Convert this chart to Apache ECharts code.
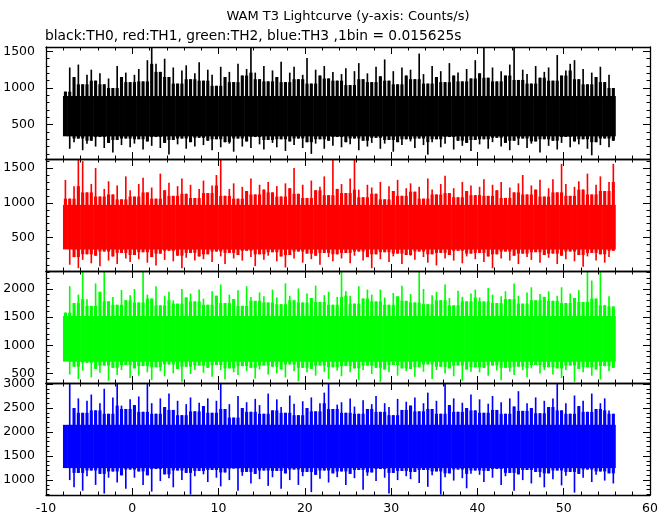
<!DOCTYPE html>
<html><head><meta charset="utf-8">
<script src="https://cdn.jsdelivr.net/npm/echarts@6/dist/echarts.min.js"></script>
<style>html,body{margin:0;padding:0;background:#fff}#c{width:672px;height:515px}</style>
</head><body><div id="c"></div>
<script>
const TITLE = 'WAM T3 Lightcurve (y-axis: Counts/s)';
const SUBTITLE = 'black:TH0, red:TH1, green:TH2, blue:TH3 ,1bin = 0.015625s';
const X_MIN = -10, X_MAX = 60, X_INTERVAL = 10;
const T_START = -8, T_BIN = 0.5;   // start time of first reading, width of each reading interval (s)

// Per-panel envelope readings per 0.5 s interval: hi = spike tops, lo = spike bottoms (Counts/s)
const th0Hi = [950,1280,1150,1320,1050,1180,1250,1100,1200,1050,1130,1000,1300,1150,1210,1080,
 1180,1260,1090,1380,1560,1330,1220,1400,1150,1280,1060,1240,1310,1120,1200,1350,
 1100,1250,1180,1030,1290,1150,1220,1080,1330,1170,1260,1560,1210,1120,1300,1090,
 1240,1150,1360,1080,1210,1290,1120,1180,1410,1060,1250,1170,1300,1130,1220,1100,
 1190,1270,1040,1230,1340,1120,1200,1080,1290,1160,1390,1100,1230,1050,1280,1170,
 1250,1120,1470,1190,1060,1300,1150,1230,1080,1340,1170,1210,1090,1260,1130,1380,
 1200,1560,1140,1280,1090,1230,1170,1320,1560,1110,1250,1190,1060,1300,1140,1220,
 1280,1100,1450,1170,1240,1330,1380,1120,1260,1050,1210,1150,1290,1080,1180,1000];
const th0Lo = [420,170,260,310,150,240,280,200,330,180,250,120,290,220,310,190,
 240,300,160,270,210,330,180,250,90,290,230,310,170,260,200,320,
 220,280,150,300,190,260,240,130,310,200,270,180,330,230,160,290,
 250,190,300,140,270,220,310,180,260,100,240,300,170,280,210,330,
 190,260,230,310,150,280,200,250,320,170,240,290,130,260,220,300,
 270,180,310,220,90,260,300,190,240,330,160,280,210,250,140,290,
 230,300,170,260,320,200,250,150,280,220,310,180,240,270,120,300,
 210,280,160,250,330,190,270,230,300,170,80,260,220,310,190,280];
const th1Hi = [1330,1060,1240,1630,1600,1150,1270,1500,1090,1200,1310,1120,1250,1050,1380,1180,
 1090,1270,1360,1150,1220,1060,1420,1180,1290,1100,1240,1350,1130,1260,1070,1200,
 1320,1140,1250,1400,1630,1100,1200,1280,1060,1230,1170,1350,1120,1260,1190,1300,
 1150,1240,1090,1280,1210,1500,1130,1260,1070,1320,1180,1230,1380,1110,1630,1200,
 1270,1140,1350,1630,1190,1080,1260,1220,1130,1300,1050,1240,1170,1330,1100,1210,
 1280,1160,1230,1060,1350,1190,1120,1270,1390,1140,1210,1080,1300,1170,1250,1110,
 1230,1340,1100,1260,1180,1300,1070,1220,1150,1280,1400,1120,1250,1190,1330,1090,
 1210,1340,1150,1560,1270,1100,1230,1310,1190,1420,1120,1260,1380,1170,1300,1560];
const th1Lo = [480,110,220,60,180,260,130,240,90,300,170,230,120,280,200,150,
 250,190,290,140,220,100,270,180,310,160,240,60,210,280,170,230,
 190,260,150,300,230,120,280,200,250,170,310,220,90,260,180,240,
 290,160,230,70,250,200,300,140,270,190,240,110,280,220,160,260,
 200,280,130,240,300,170,220,60,260,190,290,150,230,270,120,250,
 240,180,300,220,140,260,100,280,200,250,170,310,130,230,270,190,
 280,150,230,60,260,200,300,170,240,120,270,220,180,290,140,250,
 210,270,120,240,190,300,160,250,80,230,280,170,260,140,220,310];
const th2Hi = [1580,2050,1750,1900,2320,1820,1700,2100,1950,2320,1780,1860,1720,1980,1800,1890,
 2000,1760,2320,1900,1830,2050,1710,1880,1950,1800,1740,2000,1850,1920,1780,1990,
 1830,1720,1960,1880,2080,1750,1900,1820,1980,1700,2050,1860,1790,1940,1870,1760,
 1990,1850,1730,2100,1880,1800,2010,1760,1920,1840,2060,1770,1890,1950,1720,1860,
 2320,1960,1880,1740,2050,1830,1990,1900,1780,1990,1850,1720,1930,1870,2060,1790,
 1910,1760,2320,2000,1730,1890,1950,1800,2080,1840,1710,1970,1860,1780,1920,1990,
 1850,1780,2020,1900,1750,1870,1960,1820,2100,1880,1740,1940,2030,1800,1910,1860,
 1960,1790,1880,2030,1750,1920,1840,1980,1770,2320,2150,1830,2320,1710,1870,1690];
const th2Lo = [950,480,620,400,550,690,430,580,510,640,370,600,470,560,650,420,
 590,460,630,520,380,610,540,450,660,500,580,350,620,490,560,640,
 510,600,440,650,560,390,590,520,470,630,540,600,410,570,640,480,
 620,500,570,430,660,540,360,600,520,580,460,640,530,400,610,550,
 450,630,520,590,380,560,640,490,600,350,570,520,650,460,590,540,
 580,440,610,530,660,400,560,620,500,590,450,640,370,570,530,610,
 520,600,460,640,550,380,600,530,470,620,560,430,590,650,500,560,
 610,480,590,420,560,640,350,580,520,610,460,570,390,630,540,600];
const th3Hi = [2100,3020,2500,2700,2400,2650,2780,2450,2600,2900,2380,2720,3020,2550,2480,2680,
 2560,2740,2420,3020,2600,2380,2700,2520,2800,2460,2650,2350,2580,2720,2430,2610,
 2540,2700,2400,2650,3020,2480,2580,2300,2750,2500,2620,2420,2690,2560,2380,2800,
 2450,2680,2520,2400,2760,2590,2350,2640,2500,2720,2430,2600,2820,3020,2480,2570,
 2620,2400,2700,2530,2380,2660,2480,2580,2750,2420,2600,2520,2350,2690,2460,2630,
 2550,2720,2430,2600,2820,2480,2650,2380,3020,2560,2700,2420,2610,2500,2780,2450,
 2680,2400,2590,2750,2460,2620,2380,2700,2530,2850,2440,2600,2500,2720,2390,2650,
 2520,2700,3020,2450,2600,2380,2760,2540,2650,2420,2800,2480,2600,2700,2450,2380];
const th3Lo = [2000,1000,850,1150,780,1080,1200,900,1130,720,1050,1180,950,1100,820,1220,
 1050,1180,900,1100,760,1230,980,1120,1040,850,1200,1000,1150,700,1080,1190,
 1120,960,1210,1050,870,1160,1000,1240,780,1090,1170,930,1130,1020,1200,880,
 1060,1190,820,1140,1000,1220,900,1080,1170,750,1110,1030,1200,950,1140,1060,
 1180,900,1130,1040,1210,800,1090,1160,980,1230,1050,720,1150,1000,1190,1080,
 1020,1170,940,1210,860,1100,1180,700,1060,1140,990,1220,1040,830,1130,1200,
 1110,960,1190,1050,1230,900,1080,1150,780,1120,1000,1210,930,1170,1060,850,
 1140,1020,1200,890,1090,1170,740,1130,1050,1220,960,1110,1180,990,1140,930];

// Level of the solid core band of each panel (Counts/s)
const coreLo = [340, 330, 710, 1250];
const coreHi = [890, 970, 1520, 2150];

const panelHi = [th0Hi, th1Hi, th2Hi, th3Hi];
const panelLo = [th0Lo, th1Lo, th2Lo, th3Lo];
const panelNames = ['TH0', 'TH1', 'TH2', 'TH3'];
const panelColors = ['#000000', '#ff0000', '#00ff00', '#0000ff'];
const yMin = [30, 20, 330, 690];
const yMax = [1560, 1630, 2320, 3020];
const Y_LABEL_STEP = 500, Y_MINOR_STEP = 100;

const FONT = '"DejaVu Sans", sans-serif';
const GRID_LEFT = 46, GRID_W = 604, GRID_TOP = 47, GRID_H = 112;
const SPIKE_FRAC = 0.38;      // spike width as fraction of a reading interval
const SHOULDER_FRAC = 0.72;   // shoulder width as fraction of a reading interval

function makeRenderer(color) {
  return function (params, api) {
    const t = api.value(0);
    const cs = params.coordSys;
    const clip = {x: cs.x, y: cs.y, width: cs.width, height: cs.height};
    const children = [];
    function rect(frac, v1, v2, pad) {
      const a = api.coord([t - T_BIN * frac / 2, Math.max(v1, v2)]);
      const b = api.coord([t + T_BIN * frac / 2, Math.min(v1, v2)]);
      const r = echarts.graphic.clipRectByRect({x: a[0] - pad, y: a[1], width: b[0] - a[0] + 2 * pad, height: b[1] - a[1]}, clip);
      if (r) children.push({type: 'rect', shape: r, style: {fill: color}});
    }
    rect(1, api.value(5), api.value(6), 0.3);                  // core
    rect(SHOULDER_FRAC, api.value(3), api.value(4), 0);        // shoulder
    rect(SPIKE_FRAC, api.value(1), api.value(2), 0);           // spike
    return {type: 'group', children: children};
  };
}

const grids = [], xAxes = [], yAxes = [], series = [];
for (let i = 0; i < 4; i++) {
  grids.push({left: GRID_LEFT, top: GRID_TOP + GRID_H * i, width: GRID_W, height: GRID_H, outerBoundsMode: 'none'});
  ['bottom', 'top'].forEach(pos => {
    xAxes.push({
      gridIndex: i, type: 'value', position: pos, min: X_MIN, max: X_MAX, interval: X_INTERVAL,
      axisLine: {show: true, onZero: false, lineStyle: {color: '#000', width: 1.3}},
      axisTick: {show: true, inside: true, length: 7, lineStyle: {color: '#000', width: 1}},
      minorTick: {show: true, splitNumber: 5, length: 3.5, lineStyle: {color: '#000', width: 1}},
      axisLabel: {show: pos === 'bottom' && i === 3, color: '#000', fontSize: 12.5, fontFamily: FONT, margin: 7},
      splitLine: {show: false}, minorSplitLine: {show: false}, z: 5
    });
  });
  const span = yMax[i] - yMin[i];
  ['left', 'right'].forEach(pos => {
    yAxes.push({
      gridIndex: i, type: 'value', position: pos, min: yMin[i], max: yMax[i],
      splitNumber: Math.round(span / Y_LABEL_STEP),
      axisLine: {show: true, onZero: false, lineStyle: {color: '#000', width: 1.3}},
      axisTick: {show: true, inside: true, length: 7, lineStyle: {color: '#000', width: 1}},
      axisLabel: {show: pos === 'left', color: '#000', fontSize: 12.5, fontFamily: FONT, margin: 11,
        formatter: v => (Math.abs(v % Y_LABEL_STEP) < 1e-6 ? String(v) : '')},
      splitLine: {show: false}, z: 5
    });
    yAxes.push({
      gridIndex: i, type: 'value', position: pos, min: yMin[i], max: yMax[i],
      splitNumber: Math.round(span / Y_MINOR_STEP),
      axisLine: {show: false, onZero: false},
      axisTick: {show: true, inside: true, length: 3.5, lineStyle: {color: '#000', width: 1}},
      axisLabel: {show: false},
      splitLine: {show: false}, z: 5
    });
  });
  const hi = panelHi[i], lo = panelLo[i], n = hi.length, rows = [];
  for (let k = 0; k < n; k++) {
    const kp = Math.max(0, k - 1), kn = Math.min(n - 1, k + 1);
    const shHi = Math.min(hi[kp], hi[k], hi[kn]);
    const shLo = Math.max(lo[kp], lo[k], lo[kn]);
    rows.push([T_START + (k + 0.5) * T_BIN, lo[k], hi[k], shLo, shHi, coreLo[i], coreHi[i]]);
  }
  series.push({
    name: panelNames[i], type: 'custom', xAxisIndex: 2 * i, yAxisIndex: 4 * i,
    renderItem: makeRenderer(panelColors[i]), data: rows,
    encode: {x: 0, y: [1, 2]}, silent: true, z: 2
  });
}

const chart = echarts.init(document.getElementById('c'), null, {renderer: 'canvas'});
chart.setOption({
  animation: false,
  backgroundColor: '#ffffff',
  grid: grids, xAxis: xAxes, yAxis: yAxes, series: series,
  graphic: [
    {type: 'text', x: GRID_LEFT + GRID_W / 2, y: 17, style: {text: TITLE, font: '13px ' + FONT, fill: '#000', align: 'center', verticalAlign: 'middle'}},
    {type: 'text', x: 45, y: 36, style: {text: SUBTITLE, font: '13.8px ' + FONT, fill: '#000', align: 'left', verticalAlign: 'middle'}}
  ]
});
</script></body></html>
